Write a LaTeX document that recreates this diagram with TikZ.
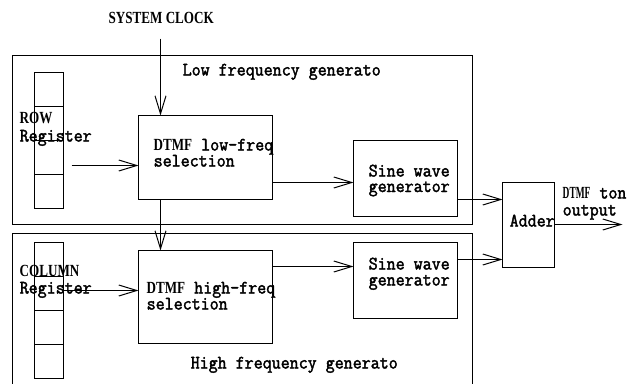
\documentclass[tikz,border=0pt]{standalone}
\usepackage{fontspec}
\usepackage{graphicx}
\newfontfamily\condfont[FakeStretch=0.77]{Liberation Serif}
\newfontfamily\monof[FakeStretch=0.92,FakeBold=2]{Latin Modern Mono}
\usetikzlibrary{arrows.meta}
\tikzset{
  box/.style={draw, line width=1.1pt, anchor=north west, inner sep=0pt, outer sep=0pt},
  cell/.style={box, minimum width=29pt, minimum height=34pt},
  arr/.style={line width=1pt, -{Straight Barb[length=18pt,width=11pt,line width=1pt]}},
  lbl/.style={anchor=base west, inner sep=0pt, font=\monof\fontsize{19}{21}\selectfont},
  two/.style={anchor=base west, inner sep=0pt, align=left, font=\monof\fontsize{19}{#1}\selectfont},
  cnd/.style={anchor=base west, inner sep=0pt, font=\fontsize{17}{19}\selectfont\condfont\bfseries},
}
\newcommand{\dtmfword}{{\fontsize{17}{19}\selectfont\condfont\bfseries DTMF}}
\newcommand{\dtmfnarrow}{\scalebox{0.72}[1]{\fontsize{17}{19}\selectfont\condfont\bfseries DTMF}}
\begin{document}
\begin{tikzpicture}[x=1pt,y=-1pt]
\useasboundingbox (-0.5,-0.5) rectangle (633.5,382.5);
% frames
\node[box, minimum width=460pt, minimum height=169pt] (lowgen) at (12,55) {};
\coordinate (hgA) at (12,384);
\coordinate (hgB) at (472,384);
\draw[line width=1.1pt] (hgA) |- (472,233) -- (hgB);
% registers
\node[cell] (r1) at (34,72) {};
\node[cell] (r2) at (34,106) {};
\node[cell] (r3) at (34,140) {};
\node[cell] (r4) at (34,174) {};
\node[cell] (c1) at (34,242) {};
\node[cell] (c2) at (34,276) {};
\node[cell] (c3) at (34,310) {};
\node[cell] (c4) at (34,344) {};
% blocks
\node[box, minimum width=134pt, minimum height=84pt] (dlow) at (138,115) {};
\node[box, minimum width=134pt, minimum height=93pt] (dhigh) at (138,250) {};
\node[box, minimum width=104pt, minimum height=76pt] (slow) at (353,140) {};
\node[box, minimum width=104pt, minimum height=76pt] (shigh) at (353,242) {};
\node[box, minimum width=52pt, minimum height=85pt] (adder) at (502,182) {};
% texts (base anchor = baseline of last line)
\node[cnd] (tclk) at (108,23) {SYSTEM CLOCK};
\node[lbl] (tlow) at (182,75) {Low frequency generato};
\node[lbl] (thigh) at (190,368) {High frequency generato};
\node[two=18] (treg1) at (19,141) {{\fontsize{17}{19}\selectfont\condfont\bfseries ROW}\\Register};
\node[two=17] (treg2) at (19,293) {{\fontsize{17}{19}\selectfont\condfont\bfseries COLUMN}\\Register};
\node[two=16] (td1) at (153,166) {\dtmfword{} low-freq\\selection};
\node[two=16] (td3) at (146,309) {\dtmfword{} high-freq\\selection};
\node[two=15.5] (ts1) at (368,191.5) {Sine wave\\generator};
\node[two=16] (ts3) at (368,285) {Sine wave\\generator};
\node[lbl] (tadd) at (509,226) {Adder};
\node[two=17] (tout1) at (562,215) {\dtmfnarrow{} ton\\output};
% connectors
\coordinate (clk) at (160,38);
\coordinate (rowst) at (71,165);
\coordinate (colst) at (63,290);
\coordinate (a1) at (353,182);
\coordinate (a2) at (353,266);
\coordinate (a3) at (502,199);
\coordinate (a4) at (502,259);
\coordinate (out) at (622,224);
\draw[arr] (clk) -- (clk |- dlow.north);
\draw[arr] (rowst) -- (rowst -| dlow.west);
\draw[arr] (clk |- dlow.south) -- (clk |- dhigh.north);
\draw[arr] (colst) -- (colst -| dhigh.west);
\draw[arr] (dlow.east |- a1) -- (a1);
\draw[arr] (dhigh.east |- a2) -- (a2);
\draw[arr] (slow.east |- a3) -- (a3);
\draw[arr] (shigh.east |- a4) -- (a4);
\draw[arr] (adder.east |- out) -- (out);
\end{tikzpicture}
\end{document}
